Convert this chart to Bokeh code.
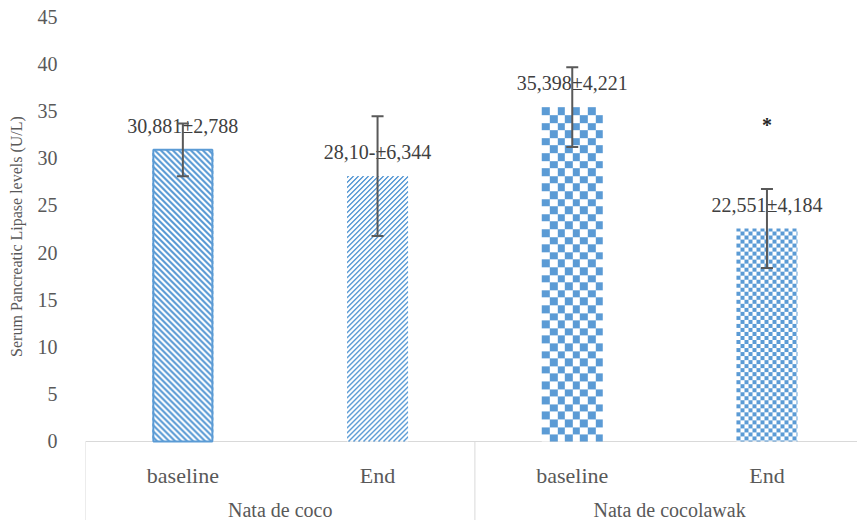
import numpy as np
from bokeh.plotting import figure
from bokeh.models import ColumnDataSource, Range1d, FixedTicker, Whisker, TeeHead
from bokeh.core.properties import value
from bokeh.embed import file_html
from bokeh.resources import INLINE

# ---- data ----
groups = ["Nata de coco", "Nata de cocolawak"]
phases = ["baseline", "End", "baseline", "End"]
means = [30.881, 28.10, 35.398, 22.551]
sds = [2.788, 6.344, 4.221, 4.184]
labels = ["30,881\u00b12,788", "28,10-\u00b16,344", "35,398\u00b14,221", "22,551\u00b14,184"]
marks = ["", "", "", "*"]
yticks = [0, 5, 10, 15, 20, 25, 30, 35, 40, 45]
y_title = "Serum Pancreatic Lipase levels (U/L)"

BLUE = (91, 155, 213)
BLUE_HEX = "#5B9BD5"
FONT = "Liberation Serif"

W, H = 857, 520
LEFT = 85
X0, X1 = 0, 3.965
Y0, Y1 = -8.365, 46.695
ppx = (W - LEFT) / (X1 - X0)
ppy = H / (Y1 - Y0)

n = len(means)
xs = [i + 0.5 for i in range(n)]
upper = [m + s for m, s in zip(means, sds)]
lower = [m - s for m, s in zip(means, sds)]

p = figure(width=W, height=H, output_backend="svg", toolbar_location=None,
           x_range=Range1d(X0, X1), y_range=Range1d(Y0, Y1),
           min_border_left=LEFT, min_border_right=0, min_border_top=0, min_border_bottom=0)
p.outline_line_color = None
p.grid.visible = False
p.xaxis.visible = False

ya = p.yaxis[0]
ya.ticker = FixedTicker(ticks=yticks)
ya.axis_line_color = None
ya.major_tick_line_color = None
ya.minor_tick_line_color = None
ya.major_label_standoff = 22
ya.major_label_text_font = FONT
ya.major_label_text_font_size = "20px"
ya.major_label_text_color = "#595959"
# leading en-spaces lift the title so that it centres on the 0..45 part of the axis
ya.axis_label = "\u2002" * 6 + y_title
ya.axis_label_text_font = FONT
ya.axis_label_text_font_size = "16px"
ya.axis_label_text_font_style = "normal"
ya.axis_label_text_color = "#595959"
ya.axis_label_standoff = 10

# category box lines
per_group = n // len(groups)
bounds = [g * per_group for g in range(len(groups) + 1)]
p.segment(x0=bounds, y0=[0] * len(bounds), x1=bounds, y1=[Y0 - 5] * len(bounds),
          line_color="#d9d9d9", line_width=1)
p.segment(x0=[0], y0=[0], x1=[n], y1=[0], line_color="#d9d9d9", line_width=1)


# ---- pattern fills (texture only; placement from data via scales) ----
def pattern(kind, w, h):
    ys, xs_ = np.mgrid[0:h, 0:w]  # screen orientation, row 0 at top
    if kind == "down":      # "\" stripes
        on = ((xs_ - ys) % 6) < 3
    elif kind == "up":      # "/" stripes, light
        on = ((xs_ + ys) % 5) < 2
    elif kind == "checker_big":
        on = ((np.floor(xs_ / 7.6) + np.floor(ys / 7.6)) % 2) == 0
    else:
        on = ((np.floor(xs_ / 4.0) + np.floor(ys / 4.0)) % 2) == 0
    img = np.empty((h, w), dtype=np.uint32)
    v = img.view(dtype=np.uint8).reshape((h, w, 4))
    v[:, :, 0] = np.where(on, BLUE[0], 255)
    v[:, :, 1] = np.where(on, BLUE[1], 255)
    v[:, :, 2] = np.where(on, BLUE[2], 255)
    v[:, :, 3] = 255
    return np.flipud(img)


kinds = ["down", "up", "checker_big", "checker_small"]
bw_px = 61
bw = bw_px / ppx
for i in range(n):
    hpx = int(round(means[i] * ppy))
    img = pattern(kinds[i], bw_px, hpx)
    p.image_rgba(image=[img], x=xs[i] - bw / 2, y=0, dw=bw, dh=means[i])

# border on the first bar
p.vbar(x=[xs[0]], top=[means[0]], bottom=0, width=bw - 2 / ppx, fill_color=None,
       line_color=BLUE_HEX, line_width=2)

src = ColumnDataSource(dict(x=xs, top=means, upper=upper, lower=lower, label=labels,
                            phase=phases, mark=marks,
                            mark_y=[u + 6.8 for u in upper],
                            zero=[0] * n))

p.text(x="x", y="top", text="label", source=src, y_offset=-24,
       text_align="center", text_baseline="middle",
       text_font=value(FONT), text_font_size="20px", text_color="#404040")

w = Whisker(base="x", upper="upper", lower="lower", source=src, dimension="height",
            line_color="#595959", line_width=2, level="annotation",
            upper_head=TeeHead(size=12, line_color="#595959", line_width=2),
            lower_head=TeeHead(size=12, line_color="#595959", line_width=2))
p.add_layout(w)

p.text(x="x", y="mark_y", text="mark", source=src, text_align="center",
       text_baseline="middle", text_font=value(FONT), text_font_size="20px",
       text_color="#262626", text_font_style="bold")

p.text(x="x", y="zero", text="phase", source=src, y_offset=34,
       text_align="center", text_baseline="alphabetic",
       text_font=value(FONT), text_font_size="22px", text_color="#595959")

gsrc = ColumnDataSource(dict(x=[(bounds[g] + bounds[g + 1]) / 2 for g in range(len(groups))],
                             y=[0] * len(groups), name=groups))
p.text(x="x", y="y", text="name", source=gsrc, y_offset=69,
       text_align="center", text_baseline="alphabetic",
       text_font=value(FONT), text_font_size="20px", text_color="#595959")

open("out.html", "w").write(file_html(p, INLINE))
